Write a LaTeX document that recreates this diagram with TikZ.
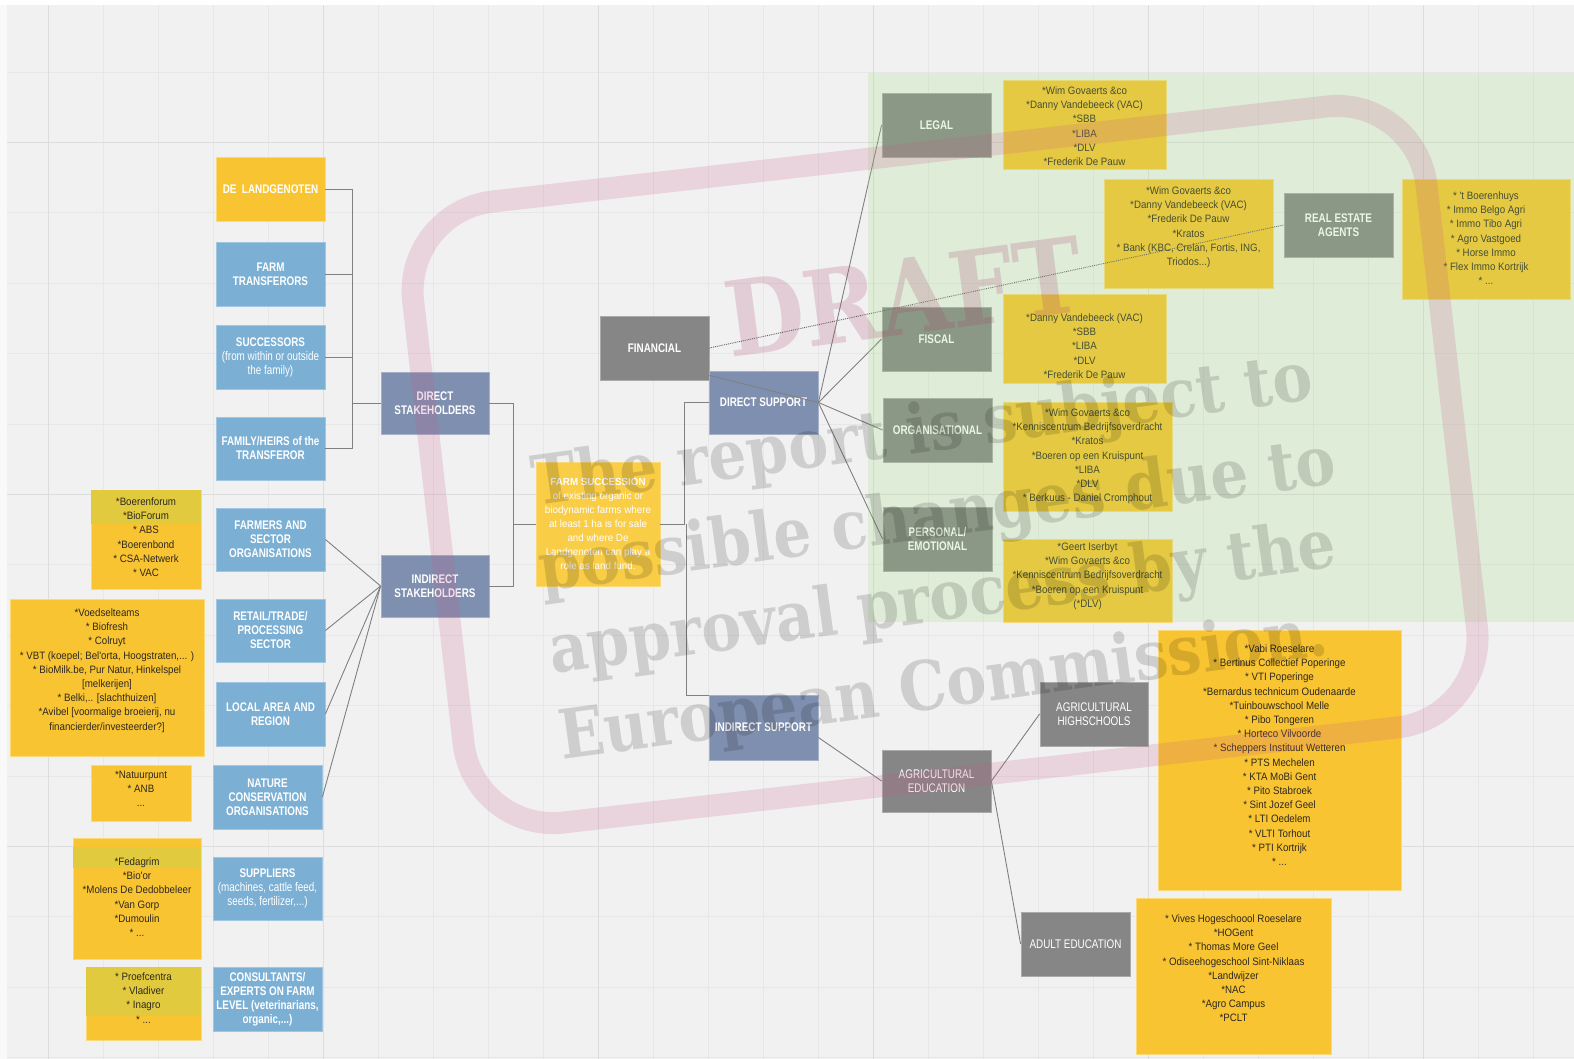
\documentclass[tikz,border=0pt]{standalone}
\usepackage{fontspec}
\setmainfont{Liberation Sans}
\newfontfamily\labfont{Liberation Sans}[FakeStretch=0.79]
\newfontfamily\listfont{Liberation Sans}[FakeStretch=0.91]
\newfontfamily\fsfont{Liberation Sans}[FakeStretch=0.95]
\newfontfamily\wmfont{DejaVu Serif}[FakeStretch=0.88]
\usetikzlibrary{calc}
\definecolor{bgc}{RGB}{241,241,241}
\definecolor{gridc}{RGB}{231,231,231}
\definecolor{gridm}{RGB}{221,221,221}
\definecolor{yel}{RGB}{249,196,50}
\definecolor{yelbd}{RGB}{250,218,120}
\definecolor{fsyel}{RGB}{250,205,70}
\definecolor{olive}{RGB}{226,202,62}
\definecolor{blu}{RGB}{123,175,212}
\definecolor{blubd}{RGB}{160,198,226}
\definecolor{slate}{RGB}{127,143,175}
\definecolor{slatebd}{RGB}{165,177,200}
\definecolor{gry}{RGB}{134,134,134}
\definecolor{grybd}{RGB}{170,170,170}
\definecolor{ltxt}{RGB}{45,40,30}
\definecolor{connc}{RGB}{128,128,128}
\definecolor{dotc}{RGB}{95,95,95}
\definecolor{grn}{RGB}{160,220,130}
\definecolor{draftc}{RGB}{170,60,110}
\definecolor{stampc}{RGB}{200,90,140}
\tikzset{
  lab/.style={font=\labfont\bfseries\fontsize{12.5}{14}\selectfont, text=white, align=center, inner sep=0pt, line width=0.8pt},
  labr/.style={lab, font=\labfont\mdseries\fontsize{12.5}{14}\selectfont},
  blubox/.style={lab, fill=blu, draw=blubd},
  slbox/.style={lab, fill=slate, draw=slatebd},
  grbox/.style={lab, fill=gry, draw=grybd},
  grboxr/.style={labr, fill=gry, draw=grybd},
  yelbox/.style={lab, fill=yel, draw=yelbd},
  fsbox/.style={fill=fsyel, draw=yelbd, line width=0.8pt, text=white, align=center, inner sep=0pt, font=\fsfont\fontsize{10.3}{14}\selectfont},
  listbox/.style={fill=yel, draw=yelbd, line width=0.8pt, inner sep=0pt},
  listtxt/.style={font=\listfont\fontsize{10.7}{14.2}\selectfont, text=ltxt, align=center, inner sep=0pt, anchor=north},
  band/.style={fill=olive},
  conn/.style={draw=connc, line width=0.9pt},
  dotconn/.style={draw=dotc, line width=0.9pt, densely dotted},
  wmtxt/.style={font=\wmfont\bfseries\fontsize{68}{68}\selectfont, text=black, text opacity=0.14, inner sep=0pt, anchor=base west},
  wmdraft/.style={font=\wmfont\bfseries\fontsize{104}{104}\selectfont, text=draftc, text opacity=0.2, inner sep=0pt, anchor=base west},
}
\newcommand\mybox[7]{\node[#6, minimum width={#4-#2}, minimum height={#5-#3}] (#1) at ({(#2+#4)/2},{(#3+#5)/2}) {#7};}
\newcommand\mylist[9]{%
  \node[listbox, minimum width={#4-#2}, minimum height={#5-#3}] (#1) at ({(#2+#4)/2},{(#3+#5)/2}) {};
  \ifnum#7<#8 \fill[band] (#2,#7) rectangle (#4,#8);\fi
  \node[listtxt] (#1t) at ({(#2+#4)/2},{#6-4.5}) {#9};}
\begin{document}
\begin{tikzpicture}[x=1pt,y=-1pt]
\useasboundingbox (0,0) rectangle (1574,1059);
% background and grid
\fill[bgc] (0,0) rectangle (1574,1059);
\foreach \i in {0,...,28} \draw[gridc, line width=0.8pt] ({48.5+55*\i},5) -- ({48.5+55*\i},1059);
\foreach \j in {0,...,14} \draw[gridc, line width=0.8pt] (7,{72+70.4*\j}) -- (1574,{72+70.4*\j});
\foreach \i in {0,5,10,15,20,25} \draw[gridm, line width=0.9pt] ({48.5+55*\i},5) -- ({48.5+55*\i},1059);
\foreach \j in {1,6,11} \draw[gridm, line width=0.9pt] (7,{72+70.4*\j}) -- (1574,{72+70.4*\j});
\fill[white] (0,0) rectangle (1574,5);
\fill[white, fill opacity=0.6] (0,0) rectangle (7,1059);

% left column
\mybox{dl}{216}{157}{325}{221}{yelbox}{DE\ \ LANDGENOTEN}
\mybox{ft}{216}{242}{325}{306}{blubox}{FARM\\TRANSFERORS}
\mybox{su}{216}{325}{325}{389}{blubox}{SUCCESSORS\\\mdseries (from within or outside\\\mdseries the family)}
\mybox{fh}{216}{417}{325}{480}{blubox}{FAMILY/HEIRS of the\\TRANSFEROR}
\mybox{fa}{216}{508}{325}{571}{blubox}{FARMERS AND\\SECTOR\\ORGANISATIONS}
\mybox{re}{216}{599}{325}{662}{blubox}{RETAIL/TRADE/\\PROCESSING\\SECTOR}
\mybox{lo}{216}{682}{325}{746}{blubox}{LOCAL AREA AND\\REGION}
\mybox{na}{213}{765}{322}{829}{blubox}{NATURE\\CONSERVATION\\ORGANISATIONS}
\mybox{sp}{213}{857}{322}{920}{blubox}{SUPPLIERS\\\mdseries (machines, cattle feed,\\\mdseries seeds, fertilizer,...)}
\mybox{co}{213}{967}{322}{1031}{blubox}{CONSULTANTS/\\EXPERTS ON FARM\\LEVEL (veterinarians,\\organic,...)}

% left lists
\mylist{l9}{91}{490}{201}{589}{502}{490}{524}{*Boerenforum\\*BioForum\\* ABS\\*Boerenbond\\* CSA-Netwerk\\* VAC}
\mylist{l10}{10}{599}{204}{756}{613}{0}{0}{*Voedselteams\\* Biofresh\\* Colruyt\\* VBT (koepel; Bel'orta, Hoogstraten,... )\\* BioMilk.be, Pur Natur, Hinkelspel\\{[melkerijen]}\\* Belki,.. [slachthuizen]\\*Avibel [voormalige broeierij, nu\\financierder/investeerder?]}
\mylist{l11}{91}{765}{191}{821}{775}{0}{0}{*Natuurpunt\\* ANB\\...}
\mylist{l12}{73}{838}{201}{959}{862}{847}{868}{*Fedagrim\\*Bio'or\\*Molens De Dedobbeleer\\*Van Gorp\\*Dumoulin\\* ...}
\mylist{l13}{86}{967}{201}{1040}{977}{967}{1016}{* Proefcentra\\* Vladiver\\* Inagro\\* ...}

% middle
\mybox{ds}{381}{372}{489}{434}{slbox}{DIRECT\\STAKEHOLDERS}
\mybox{is}{381}{555}{489}{617}{slbox}{INDIRECT\\STAKEHOLDERS}
\mybox{fs}{536}{462}{660}{586}{fsbox}{\bfseries FARM SUCCESSION\\\mdseries of existing organic or\\\mdseries biodynamic farms where\\\mdseries at least 1 ha is for sale\\\mdseries and where De\\\mdseries Landgenoten can play a\\\mdseries role as land fund.}
\mybox{fin}{600}{316}{709}{380}{grbox}{FINANCIAL}
\mybox{dsup}{709}{371}{818}{434}{slbox}{DIRECT SUPPORT}
\mybox{isup}{709}{695}{818}{760}{slbox}{INDIRECT SUPPORT}

% right
\mybox{legal}{882}{93}{991}{157}{grbox}{LEGAL}
\mybox{fiscal}{882}{307}{991}{371}{grbox}{FISCAL}
\mybox{org}{883}{398}{992}{462}{grbox}{ORGANISATIONAL}
\mybox{pers}{883}{507}{992}{571}{grbox}{PERSONAL/\\EMOTIONAL}
\mybox{rea}{1284}{193}{1393}{257}{grbox}{REAL ESTATE\\AGENTS}
\mybox{ae}{882}{750}{991}{812}{grboxr}{AGRICULTURAL\\EDUCATION}
\mybox{ah}{1040}{682}{1148}{746}{grboxr}{AGRICULTURAL\\HIGHSCHOOLS}
\mybox{ad}{1021}{912}{1130}{976}{grboxr}{ADULT EDUCATION}

\mylist{l1}{1003}{80}{1166}{169}{91}{0}{0}{*Wim Govaerts \&co\\*Danny Vandebeeck (VAC)\\*SBB\\*LIBA\\*DLV\\*Frederik De Pauw}
\mylist{l2}{1104}{179}{1273}{288}{191}{0}{0}{*Wim Govaerts \&co\\*Danny Vandebeeck (VAC)\\*Frederik De Pauw\\*Kratos\\* Bank (KBC, Crelan, Fortis, ING,\\Triodos...)}
\mylist{l3}{1402}{179}{1570}{299}{196}{0}{0}{* 't Boerenhuys\\* Immo Belgo Agri\\* Immo Tibo Agri\\* Agro Vastgoed\\* Horse Immo\\* Flex Immo Kortrijk\\* ...}
\mylist{l4}{1003}{294}{1166}{383}{318}{0}{0}{*Danny Vandebeeck (VAC)\\*SBB\\*LIBA\\*DLV\\*Frederik De Pauw}
\mylist{l5}{1003}{402}{1172}{511}{413}{0}{0}{*Wim Govaerts \&co\\*Kenniscentrum Bedrijfsoverdracht\\*Kratos\\*Boeren op een Kruispunt\\*LIBA\\*DLV\\* Berkuus - Daniel Cromphout}
\mylist{l6}{1003}{539}{1172}{622}{547}{0}{0}{*Geert Iserbyt\\*Wim Govaerts \&co\\*Kenniscentrum Bedrijfsoverdracht\\*Boeren op een Kruispunt\\(*DLV)}
\mylist{l7}{1158}{630}{1401}{890}{649}{0}{0}{*Vabi Roeselare\\* Bertinus Collectief Poperinge\\* VTI Poperinge\\*Bernardus technicum Oudenaarde\\*Tuinbouwschool Melle\\* Pibo Tongeren\\* Horteco Vilvoorde\\* Scheppers Instituut Wetteren\\* PTS Mechelen\\* KTA MoBi Gent\\* Pito Stabroek\\* Sint Jozef Geel\\* LTI Oedelem\\* VLTI Torhout\\* PTI Kortrijk\\* ...}
\mylist{l8}{1136}{898}{1331}{1054}{919}{0}{0}{* Vives Hogeschoool Roeselare\\*HOGent\\* Thomas More Geel\\* Odiseehogeschool Sint-Niklaas\\*Landwijzer\\*NAC\\*Agro Campus\\*PCLT}

% connectors
\coordinate (b1) at (352,0);
\foreach \nm in {dl,ft,su,fh} \draw[conn] (\nm.east) -- (\nm.east -| b1) |- (ds.west);
\coordinate (b2) at (513,0);
\foreach \nm in {ds,is} \draw[conn] (\nm.east) -- (\nm.east -| b2) |- (fs.west);
\coordinate (b3) at (684,0);
\coordinate (b4) at (686,0);
\draw[conn] (fs.east) -- (fs.east -| b3) |- (dsup.west);
\draw[conn] (fs.east -| b4) |- ([yshift=-1pt]isup.north west);
\foreach \nm in {fa,re,lo,na} \draw[conn] (is.west) -- (\nm.east);
\foreach \nm in {legal,fiscal,org,pers} \draw[conn] (dsup.east) -- (\nm.west);
\draw[conn] ([yshift=5pt]fin.south east) -- (dsup.east);
\draw[dotconn] (fin.east) -- (rea.west);
\draw[conn] ([yshift=-10pt]isup.east) -- (ae.west);
\draw[conn] (ae.east) -- (ah.west);
\draw[conn] (ae.east) -- (ad.west);

% green zone overlay
\fill[grn, fill opacity=0.22] (868,73) rectangle (1574,622);

% watermark
\draw[stampc, draw opacity=0.19, line width=22pt, rounded corners=90pt, rotate around={6.5:(945,464)}] (435,152) rectangle (1455,777);
\node[wmdraft, rotate=7.5] (wm0) at (730,358) {DRAFT};
\node[wmtxt, rotate=7.8] (wm1) at (535,506) {The report is subject to};
\node[wmtxt, rotate=7.8] (wm2) at (542,592) {possible changes due to};
\node[wmtxt, rotate=7.8] (wm3) at (552,674) {approval process by the};
\node[wmtxt, rotate=7.8] (wm4) at (562,760) {European Commission.};
\end{tikzpicture}
\end{document}
